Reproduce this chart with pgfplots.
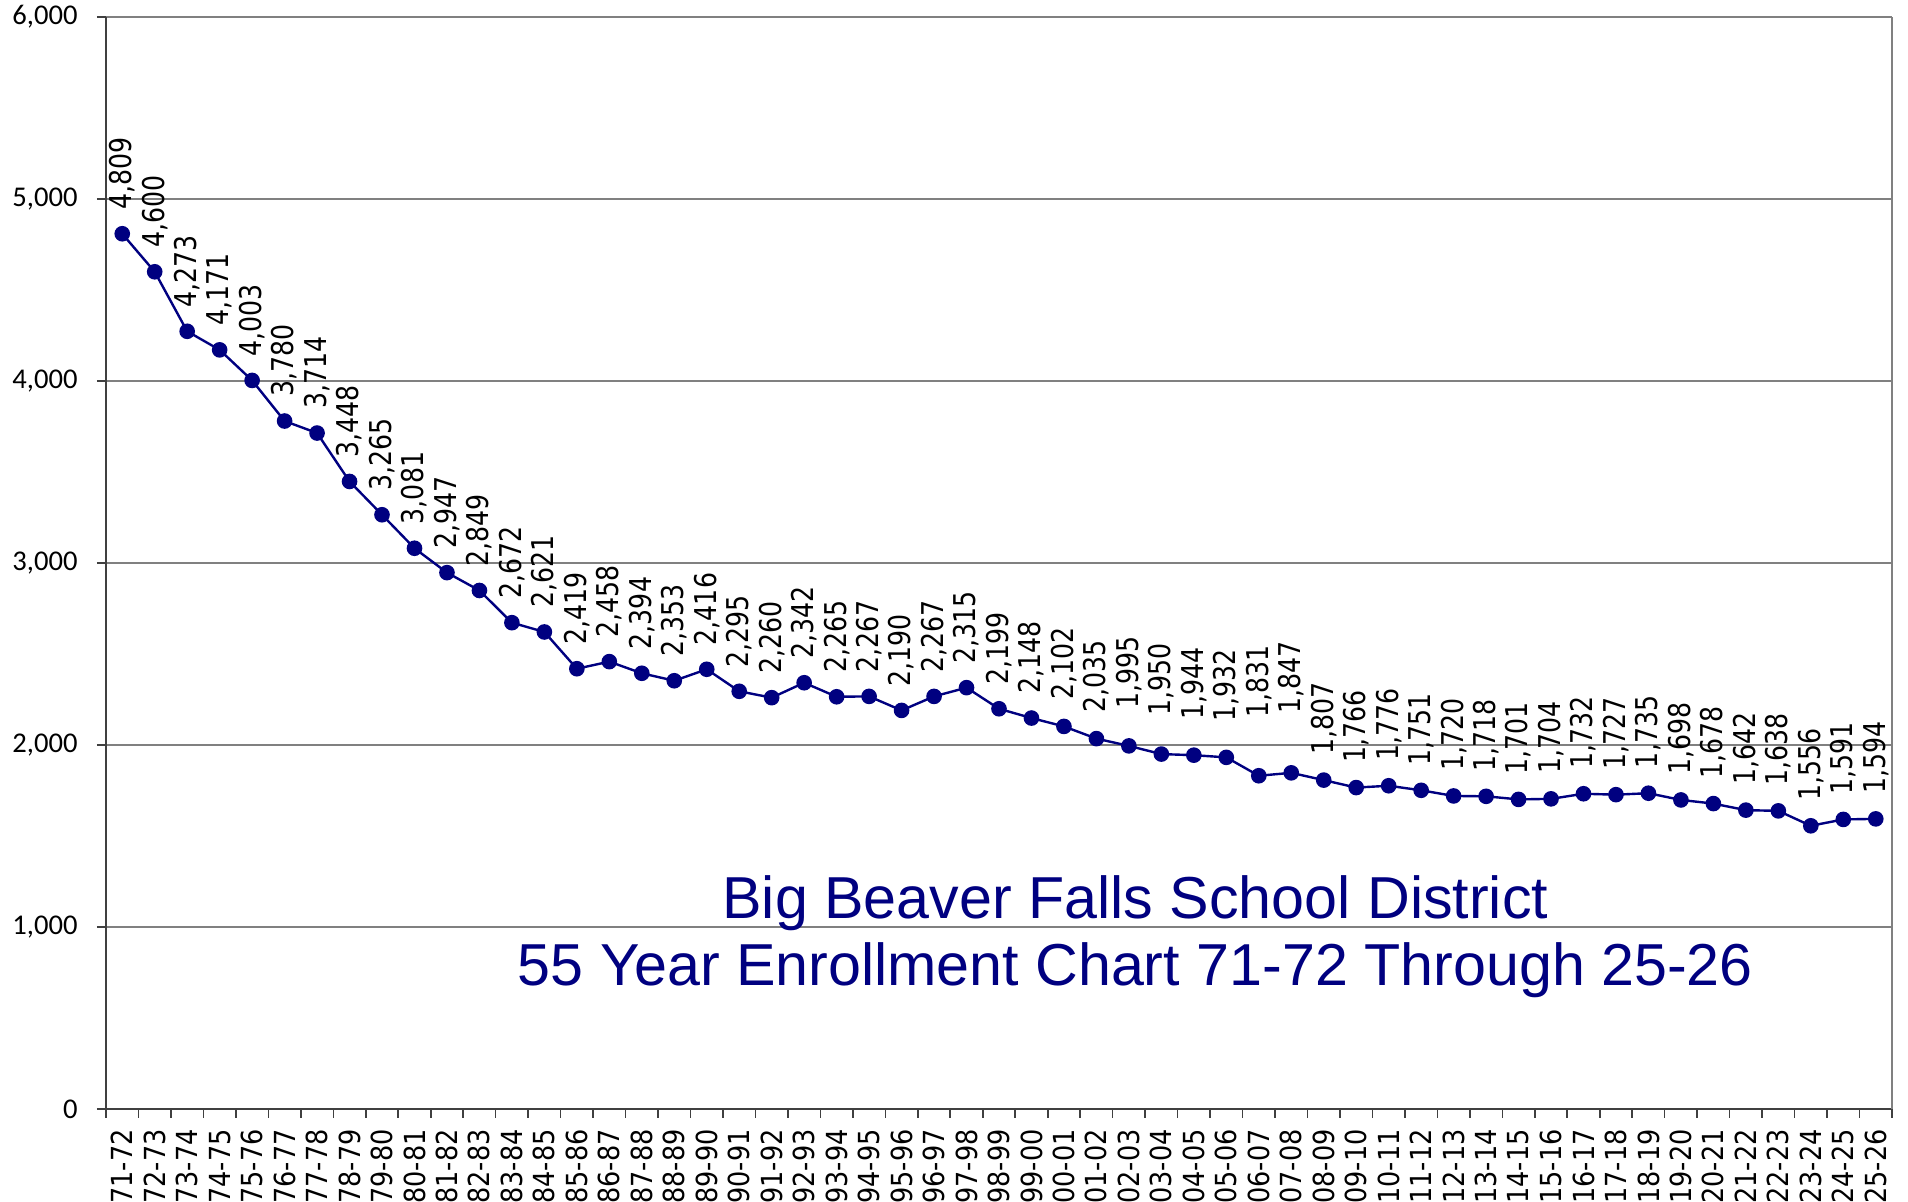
\documentclass[border=0pt]{standalone}
\usepackage{fontspec}
\setmainfont{DejaVu Sans}
\newfontfamily\labfont{DejaVu Sans}[FakeStretch=0.84]
\newfontfamily\xlabfont{DejaVu Sans}[FakeStretch=0.88]
\newfontfamily\tickfont{Carlito}
\newfontfamily\titlefont{Liberation Sans}
\usepackage{pgfplots}
\pgfplotsset{compat=1.18}
\usepackage{pgfplotstable}
\definecolor{navyline}{HTML}{000080}
\definecolor{gridgray}{HTML}{808080}
\definecolor{axisdark}{HTML}{404040}

% x = school year index (71-72 = 0), y = enrollment, off = label gap in pt
\pgfplotstableread{
x y off
0 4809 11.5
1 4600 11.5
2 4273 11.5
3 4171 11.5
4 4003 11.5
5 3780 11.5
6 3714 11.5
7 3448 11.5
8 3265 11.5
9 3081 11.5
10 2947 11.5
11 2849 11.5
12 2672 11.5
13 2621 11.5
14 2419 11.5
15 2458 11.5
16 2394 11.5
17 2353 11.5
18 2416 11.5
19 2295 11.5
20 2260 11.5
21 2342 11.5
22 2265 11.5
23 2267 11.5
24 2190 11.5
25 2267 11.5
26 2315 11.5
27 2199 11.5
28 2148 11.5
29 2102 13
30 2035 12.5
31 1995 18
32 1950 18.5
33 1944 17
34 1932 17.5
35 1831 28.5
36 1847 29
37 1807 12
38 1766 12
39 1776 12
40 1751 12
41 1720 12
42 1718 12
43 1701 12
44 1704 12
45 1732 12
46 1727 12
47 1735 12
48 1698 12
49 1678 12
50 1642 12
51 1638 12
52 1556 12
53 1591 12
54 1594 12
}\enrollment

\begin{document}
\begin{tikzpicture}
\path[use as bounding box] (-53pt,-46.5pt) rectangle (901pt,554.5pt);
\begin{axis}[
  scale only axis,
  width=893pt, height=546pt,
  xmin=-0.5, xmax=54.5,
  ymin=0, ymax=6000,
  ytick={0,1000,...,6000},
  xtick={0,...,54},
  xticklabels={71-72,72-73,73-74,74-75,75-76,76-77,77-78,78-79,79-80,80-81,
    81-82,82-83,83-84,84-85,85-86,86-87,87-88,88-89,89-90,90-91,91-92,92-93,
    93-94,94-95,95-96,96-97,97-98,98-99,99-00,00-01,01-02,02-03,03-04,04-05,
    05-06,06-07,07-08,08-09,09-10,10-11,11-12,12-13,13-14,14-15,15-16,16-17,
    17-18,18-19,19-20,20-21,21-22,22-23,23-24,24-25,25-26},
  minor xtick={-0.5,0.5,...,54.5},
  major x tick style={draw=none},
  minor x tick style={draw=axisdark, line width=0.8pt},
  tick align=outside,
  major tick length=4.5pt,
  minor tick length=4.5pt,
  ytick style={draw=axisdark, line width=0.8pt},
  ymajorgrids=true,
  major grid style={draw=gridgray, line width=0.8pt},
  axis x line*=bottom,
  axis y line*=left,
  axis line style={-, draw=axisdark, line width=0.8pt},
  x tick label style={font=\xlabfont\fontsize{14.5}{15}\selectfont, yshift=-5.5pt, rotate=90, anchor=east, inner sep=0pt},
  y tick label style={font=\tickfont\fontsize{14.3}{15}\selectfont, anchor=east, inner sep=0pt, xshift=-9.5pt},
  /pgf/number format/1000 sep={,},
  /pgf/number format/assume math mode=true,
  clip=false,
]
\addplot[color=navyline, line width=1.2pt, mark=*, mark size=3.3pt,
  mark options={fill=navyline, draw=navyline},
  visualization depends on={\thisrow{off} \as \laboff},
  nodes near coords,
  nodes near coords style={font=\labfont\fontsize{15}{16}\selectfont, text=black,
    yshift=\laboff pt, rotate=90, anchor=west, inner sep=0pt},
] table[x=x, y=y] {\enrollment};
\draw[gridgray, line width=1pt] (rel axis cs:1,0) -- (rel axis cs:1,1);
\node[font=\titlefont\fontsize{29.6}{30}\selectfont, text=navyline, anchor=base]
  at (axis cs:31.2,1044) {Big Beaver Falls School District};
\node[font=\titlefont\fontsize{29.6}{30}\selectfont, text=navyline, anchor=base]
  at (axis cs:31.2,676) {55 Year Enrollment Chart 71-72 Through 25-26};
\end{axis}
\end{tikzpicture}
\end{document}
